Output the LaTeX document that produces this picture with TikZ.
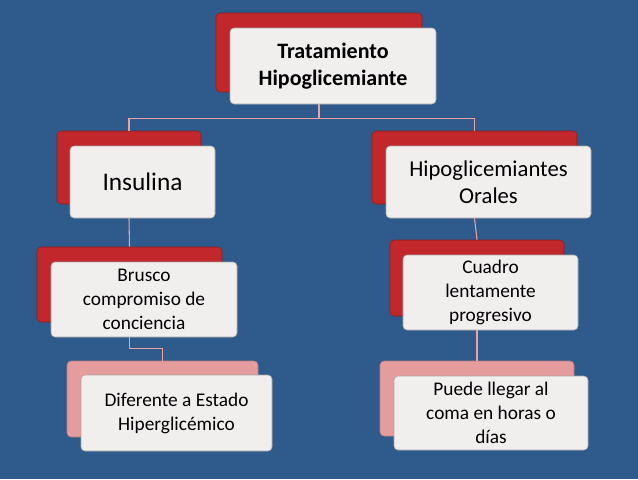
\documentclass[tikz,border=0pt]{standalone}
\usepackage{fontspec}
\setmainfont{Carlito}
\usetikzlibrary{calc}
\definecolor{bg}{HTML}{2F5B8C}
\definecolor{redb}{HTML}{C2282B}
\definecolor{pinkb}{HTML}{E59C9C}
\definecolor{front}{HTML}{F1EEEE}
\definecolor{conn}{HTML}{E8A4A4}
\tikzset{
 back/.style={draw=redb!70!black, fill=redb, rounded corners=3pt, inner sep=0pt},
 backp/.style={draw=pinkb!80!black, fill=pinkb, rounded corners=3pt, inner sep=0pt},
 fr/.style={draw=gray!70, fill=front, rounded corners=3pt, inner sep=2pt, align=center, text=black},
 cn/.style={draw=conn, line width=0.8pt}
}
\begin{document}
\begin{tikzpicture}[x=0.75pt,y=-0.75pt]
\fill[bg] (0,0) rectangle (638,479);
\useasboundingbox (0,0) rectangle (638,479);
% top
\node[back, minimum width=154.5pt, minimum height=59.25pt] (b1) at (319,52.5) {};
\node[fr, minimum width=154.5pt, minimum height=57pt, font=\fontsize{16.5}{20}\selectfont\bfseries] (f1) at (333,66) {Tratamiento\\Hipoglicemiante};
% insulina
\node[back, minimum width=108pt, minimum height=54.75pt] (b2) at (129,167.5) {};
\node[fr, minimum width=108.75pt, minimum height=54pt, font=\fontsize{19}{23}\selectfont] (f2) at (142.5,182) {Insulina};
% orales
\node[back, minimum width=153.75pt, minimum height=54.75pt] (b3) at (474.5,167.5) {};
\node[fr, minimum width=153.75pt, minimum height=54pt, font=\fontsize{17}{20}\selectfont] (f3) at (488.5,182) {Hipoglicemiantes\\Orales};
% brusco
\node[back, minimum width=138.75pt, minimum height=56.25pt] (b4) at (129.5,284.5) {};
\node[fr, minimum width=139.5pt, minimum height=56.25pt, font=\fontsize{14.5}{18}\selectfont] (f4) at (144,299.5) {Brusco\\compromiso de\\conciencia};
% cuadro
\node[back, minimum width=130.5pt, minimum height=57pt] (b5) at (477,278) {};
\node[fr, minimum width=131.25pt, minimum height=56.25pt, font=\fontsize{14.5}{18}\selectfont] (f5) at (490.5,292.5) {Cuadro\\lentamente\\progresivo};
% diferente
\node[backp, minimum width=143.25pt, minimum height=57pt] (b6) at (162.5,399) {};
\node[fr, minimum width=143.25pt, minimum height=57pt, font=\fontsize{14.5}{18}\selectfont] (f6) at (176.5,413) {Diferente a Estado\\Hiperglicémico};
% puede
\node[backp, minimum width=145.5pt, minimum height=56.25pt] (b7) at (477,398.5) {};
\node[fr, minimum width=145.5pt, minimum height=55.5pt, font=\fontsize{14.5}{18}\selectfont] (f7) at (491,413) {Puede llegar al\\coma en horas o\\días};
% connectors
\coordinate (j1) at ($(b1.center |- f1.south)+(0,14)$);
\draw[cn] (b1.center |- f1.south) -- (j1);
\draw[cn] (j1) -| (b2.north);
\draw[cn] (j1) -| (b3.north);
\draw[cn] (b2.center |- f2.south) -- (b4.north);
\coordinate (j2) at ($(b4.center |- f4.south)+(0,11)$);
\draw[cn] (b4.center |- f4.south) -- (j2) -| (b6.north);
\draw[cn] (b3.center |- f3.south) -- (b5.north);
\draw[cn] (b5.center |- f5.south) -- (b7.north);
\end{tikzpicture}
\end{document}
